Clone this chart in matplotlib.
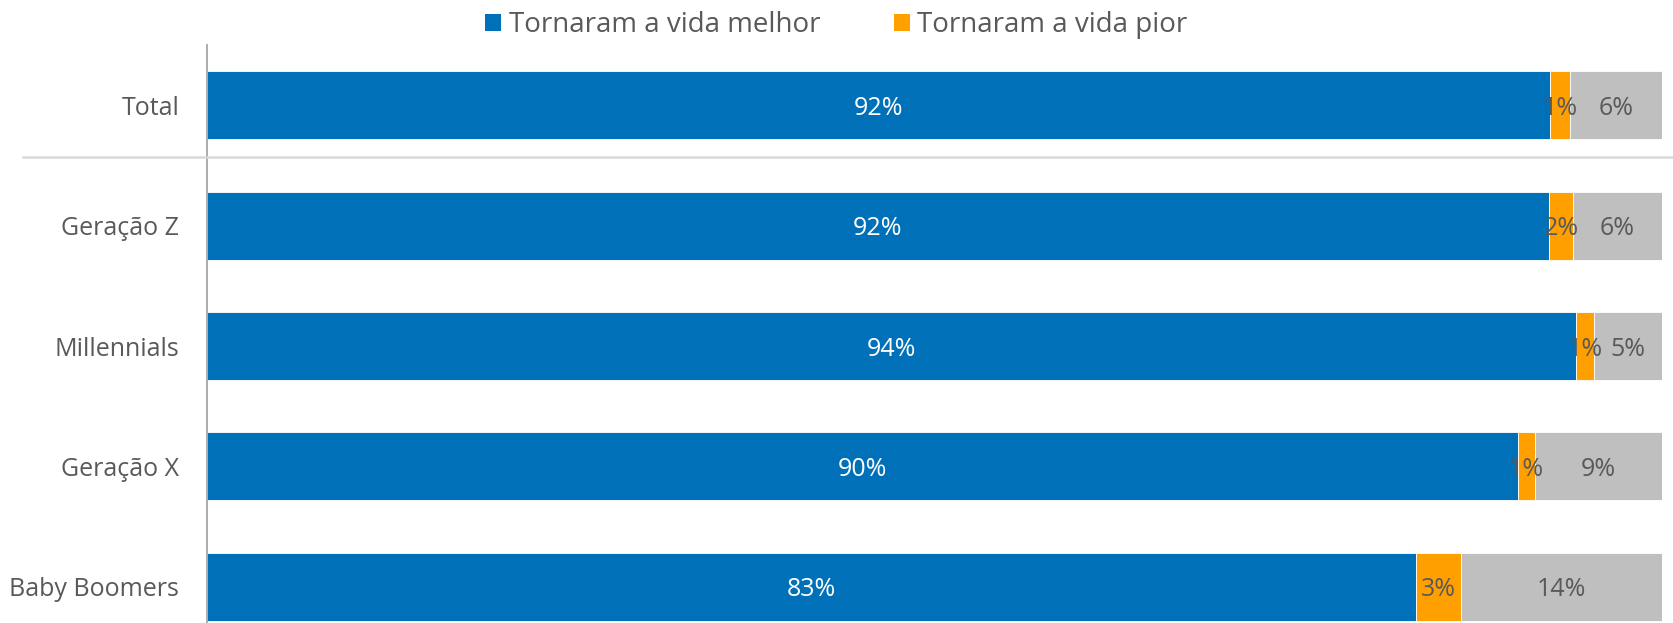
import matplotlib
matplotlib.use("Agg")
import matplotlib.pyplot as plt
from matplotlib.lines import Line2D
from matplotlib.patches import Patch

plt.rcParams['font.family'] = ['Open Sans', 'DejaVu Sans']

categories = ["Total", "Geração Z", "Millennials", "Geração X", "Baby Boomers"]
melhor = [92.3, 92.2, 94.1, 90.1, 83.1]
pior = [1.4, 1.7, 1.2, 1.2, 3.1]
outros = [6.3, 6.1, 4.7, 8.7, 13.8]
labels_melhor = ["92%", "92%", "94%", "90%", "83%"]
labels_pior = ["1%", "2%", "1%", "1%", "3%"]
labels_outros = ["6%", "6%", "5%", "9%", "14%"]
legend_labels = ["Tornaram a vida melhor", "Tornaram a vida pior"]

c_blue = "#0070b8"
c_orange = "#ffa000"
c_gray = "#bfbfbf"
txt = "#595959"

W, H = 1673, 623
fig = plt.figure(figsize=(W / 100, H / 100), dpi=100)
ax = fig.add_axes([207 / W, 0, (1662 - 207) / W, (H - 45) / H])

y = list(range(len(categories)))
h = 0.565
ax.barh(y, melhor, height=h, color=c_blue, edgecolor="white", linewidth=0.6)
ax.barh(y, pior, left=melhor, height=h, color=c_orange, edgecolor="white", linewidth=0.6)
left2 = [a + b for a, b in zip(melhor, pior)]
ax.barh(y, outros, left=left2, height=h, color=c_gray, edgecolor="white", linewidth=0.6)

fs = 18
for i in y:
    ax.text(melhor[i] / 2, i, labels_melhor[i], ha="center", va="center_baseline",
            color="white", fontsize=fs, zorder=5)
    ax.text(melhor[i] + pior[i] / 2, i, labels_pior[i], ha="center", va="center_baseline",
            color=txt, fontsize=fs, zorder=5)
    ax.text(left2[i] + outros[i] / 2, i, labels_outros[i], ha="center", va="center_baseline",
            color=txt, fontsize=fs, zorder=5)

ax.set_xlim(0, 100)
ax.set_ylim(4.30, -0.5)
ax.set_yticks(y)
ax.set_yticklabels(categories, fontsize=fs, color=txt)
ax.tick_params(axis="y", length=0, pad=20)
ax.set_xticks([])
for s in ["top", "right", "bottom"]:
    ax.spines[s].set_visible(False)
ax.spines["left"].set_color("#a6a6a6")
ax.spines["left"].set_linewidth(1.3)

# separator line between Total and generations
sep_y = 1 - 157 / H
fig.add_artist(Line2D([23 / W, 1], [sep_y, sep_y], color="#d9d9d9", linewidth=1.8))

handles = [Patch(facecolor=c_blue), Patch(facecolor=c_orange)]
fig.legend(handles, legend_labels, loc="center", bbox_to_anchor=(0.5, 1 - 25 / H), ncol=2,
           frameon=False, fontsize=20, labelcolor=txt, handlelength=0.57, handleheight=0.57,
           handletextpad=0.27, columnspacing=2.66, borderaxespad=0, borderpad=0)

fig.savefig("out.png", dpi=100)
